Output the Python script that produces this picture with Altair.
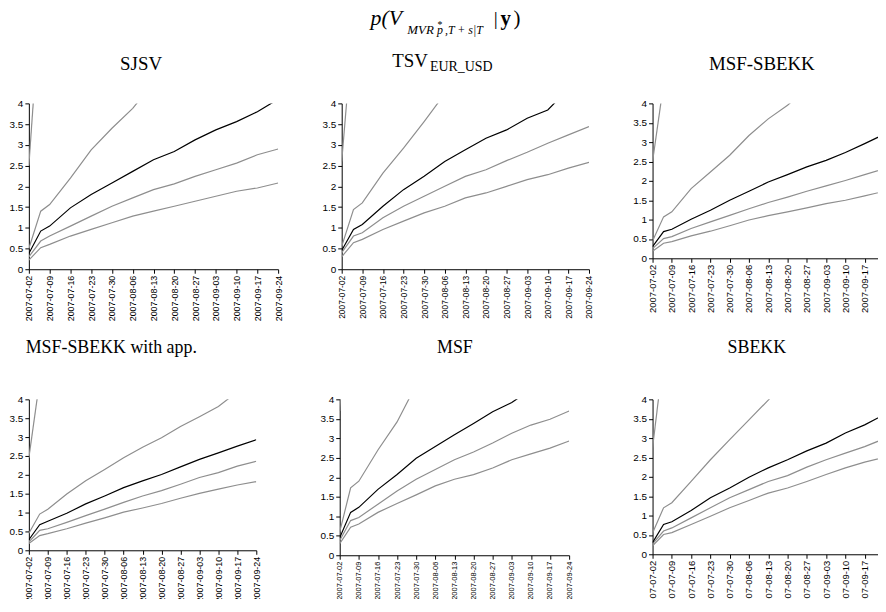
import altair as alt
import pandas as pd

# ---------------- data ----------------
dates = ["2007-07-02", "2007-07-06", "2007-07-09", "2007-07-16", "2007-07-23", "2007-07-30",
         "2007-08-06", "2007-08-13", "2007-08-20", "2007-08-27", "2007-09-03", "2007-09-10",
         "2007-09-17", "2007-09-24"]
tick_days = [(7, 2), (7, 9), (7, 16), (7, 23), (7, 30), (8, 6), (8, 13), (8, 20), (8, 27),
             (9, 3), (9, 10), (9, 17), (9, 24)]
y_ticks = [0, 0.5, 1, 1.5, 2, 2.5, 3, 3.5, 4]

# quantile paths per model (values beyond the 0-4 window are clipped)
sjsv_top = [2.5, 6.6]
sjsv_high = [0.5, 1.4, 1.56, 2.2, 2.88, 3.4, 3.88, 4.5]
sjsv_med = [0.38, 0.92, 1.04, 1.48, 1.8, 2.08, 2.36, 2.64, 2.84, 3.12, 3.36, 3.56, 3.8, 4.1]
sjsv_mid = [0.3, 0.68, 0.8, 1.04, 1.28, 1.52, 1.72, 1.92, 2.06, 2.24, 2.4, 2.56, 2.76, 2.9]
sjsv_low = [0.22, 0.52, 0.6, 0.8, 0.96, 1.12, 1.28, 1.4, 1.52, 1.64, 1.76, 1.88, 1.96, 2.08]

tsv_top = [2.6, 6.0]
tsv_high = [0.55, 1.44, 1.6, 2.32, 2.92, 3.56, 4.23]
tsv_med = [0.45, 0.96, 1.08, 1.52, 1.92, 2.24, 2.6, 2.88, 3.16, 3.36, 3.64, 3.84, 4.35]
tsv_mid = [0.4, 0.8, 0.88, 1.24, 1.52, 1.76, 2.0, 2.24, 2.4, 2.62, 2.82, 3.04, 3.24, 3.44]
tsv_low = [0.3, 0.64, 0.72, 0.96, 1.16, 1.36, 1.52, 1.72, 1.84, 2.0, 2.16, 2.28, 2.44, 2.58]

msfs_top = [2.5, 4.5]
msfs_high = [0.45, 1.07, 1.2, 1.8, 2.23, 2.66, 3.17, 3.6, 3.95, 4.4]
msfs_med = [0.3, 0.69, 0.75, 1.01, 1.24, 1.5, 1.73, 1.97, 2.16, 2.36, 2.53, 2.73, 2.96, 3.2]
msfs_mid = [0.25, 0.51, 0.56, 0.77, 0.94, 1.11, 1.28, 1.44, 1.58, 1.73, 1.87, 2.01, 2.16, 2.31]
msfs_low = [0.18, 0.39, 0.43, 0.58, 0.7, 0.84, 0.99, 1.1, 1.2, 1.3, 1.41, 1.5, 1.61, 1.73]

app_top = [2.45, 4.5]
app_high = [0.45, 0.96, 1.09, 1.49, 1.84, 2.14, 2.45, 2.73, 2.98, 3.28, 3.54, 3.81, 4.2]
app_med = [0.28, 0.68, 0.77, 0.98, 1.23, 1.44, 1.66, 1.84, 2.01, 2.21, 2.41, 2.58, 2.76, 2.93]
app_mid = [0.22, 0.53, 0.57, 0.74, 0.92, 1.09, 1.27, 1.44, 1.58, 1.75, 1.93, 2.06, 2.23, 2.36]
app_low = [0.18, 0.39, 0.44, 0.57, 0.72, 0.86, 1.01, 1.12, 1.24, 1.38, 1.51, 1.62, 1.73, 1.82]

msf_top = [3.7, 9.0]
msf_high = [0.6, 1.73, 1.9, 2.7, 3.42, 4.37]
msf_med = [0.45, 1.1, 1.23, 1.69, 2.07, 2.49, 2.79, 3.09, 3.38, 3.68, 3.92, 4.25]
msf_mid = [0.38, 0.89, 0.97, 1.31, 1.65, 1.95, 2.2, 2.45, 2.65, 2.88, 3.13, 3.34, 3.49, 3.7]
msf_low = [0.3, 0.72, 0.8, 1.1, 1.33, 1.55, 1.78, 1.95, 2.07, 2.24, 2.45, 2.6, 2.75, 2.93]

sbekk_top = [2.75, 5.1]
sbekk_high = [0.55, 1.2, 1.33, 1.88, 2.44, 2.96, 3.47, 3.98, 4.5]
sbekk_med = [0.3, 0.77, 0.84, 1.13, 1.46, 1.71, 1.99, 2.23, 2.44, 2.67, 2.87, 3.13, 3.34, 3.6]
sbekk_mid = [0.27, 0.6, 0.68, 0.94, 1.2, 1.46, 1.67, 1.88, 2.03, 2.25, 2.44, 2.61, 2.78, 2.98]
sbekk_low = [0.22, 0.51, 0.56, 0.77, 0.98, 1.2, 1.39, 1.58, 1.71, 1.88, 2.06, 2.23, 2.38, 2.5]

panels = {
    "SJSV": [sjsv_top, sjsv_high, sjsv_med, sjsv_mid, sjsv_low],
    "TSV": [tsv_top, tsv_high, tsv_med, tsv_mid, tsv_low],
    "MSF-SBEKK": [msfs_top, msfs_high, msfs_med, msfs_mid, msfs_low],
    "MSF-SBEKK with app.": [app_top, app_high, app_med, app_mid, app_low],
    "MSF": [msf_top, msf_high, msf_med, msf_mid, msf_low],
    "SBEKK": [sbekk_top, sbekk_high, sbekk_med, sbekk_mid, sbekk_low],
}
series_names = ["top", "high", "median", "mid", "low"]

rows = []
for pname, lists in panels.items():
    for sname, vals in zip(series_names, lists):
        for d, v in zip(dates, vals):
            rows.append({"panel": pname, "series": sname, "date": d, "value": v})
df = pd.DataFrame(rows)

# ---------------- styling ----------------
SERIF = "Liberation Serif"
SANS = "Liberation Sans"
GRAY = "#8e8e8e"


def dt(m, d):
    return alt.DateTime(year=2007, month=m, date=d, utc=True)


def x_enc(label_size):
    axis = alt.Axis(values=[dt(m, d) for m, d in tick_days], format="%Y-%m-%d",
                    labelAngle=270, labelAlign="right", labelBaseline="middle",
                    labelFontSize=label_size, labelFont=SANS, labelColor="black",
                    tickSize=4, labelPadding=2, title=None, grid=False,
                    labelOverlap=False, labelFlush=False,
                    domainColor="black", tickColor="black")
    return alt.X("date:T", scale=alt.Scale(type="utc", domain=[dt(7, 2), dt(9, 24)]),
                 axis=axis)


y_axis = alt.Axis(values=y_ticks, labelExpr="'' + datum.value",
                  labelFontSize=10, labelFont=SANS, labelColor="black",
                  tickSize=4, labelPadding=2, title=None, grid=False,
                  labelOverlap=False, labelFlush=False,
                  domainColor="black", tickColor="black")
y_enc = alt.Y("value:Q", scale=alt.Scale(domain=[0, 4]), axis=y_axis)


def label(text, x, y, size, align="left", style="normal", weight="normal"):
    return alt.Chart(pd.DataFrame({"t": [text]})).mark_text(
        font=SERIF, fontSize=size, align=align, baseline="alphabetic",
        fontStyle=style, fontWeight=weight, color="black"
    ).encode(text="t:N", x=alt.value(x), y=alt.value(y))


def panel(pname, w, h, label_size, labels):
    base = alt.Chart(df[df.panel == pname])
    xe = x_enc(label_size)
    gray = base.transform_filter("datum.series != 'median'").mark_line(
        clip=True, color=GRAY, strokeWidth=1.2).encode(x=xe, y=y_enc, detail="series:N")
    black = base.transform_filter("datum.series == 'median'").mark_line(
        clip=True, color="black", strokeWidth=1.2).encode(x=xe, y=y_enc)
    return alt.layer(gray, black, *labels).properties(width=w, height=h)


p1 = panel("SJSV", 251, 167, 9, [label("SJSV", 113, -34, 19, align="center")])
p2 = panel("TSV", 249, 167, 8.5, [
    label("TSV", 51, -37, 19),
    label("EUR_USD", 89, -33, 14),
    label("p(V", 29, -79, 22, style="italic"),
    label("MVR", 66, -70, 13, style="italic"),
    label("*", 96, -76, 10, style="italic"),
    label("p", 96, -70, 12, style="italic"),
    label(",T + s|T", 104, -70, 12, style="italic"),
    label("|", 153, -79, 20),
    label("y", 160, -79, 21, weight="bold"),
    label(")", 173, -79, 21),
])
p3 = panel("MSF-SBEKK", 233, 156, 9.5, [label("MSF-SBEKK", 110, -34, 19, align="center")])
p4 = panel("MSF-SBEKK with app.", 229, 152, 9,
           [label("MSF-SBEKK with app.", 83, -47, 18, align="center")])
p5 = panel("MSF", 231, 157, 7.5, [label("MSF", 116, -47, 18, align="center")])
p6 = panel("SBEKK", 233, 156, 9.5, [label("SBEKK", 105, -47, 18, align="center")])

row1 = alt.hconcat(p1, p2, p3, spacing=64, bounds="flush")
row2 = alt.hconcat(p4, p5, p6, spacing=84, bounds="flush")

chart = alt.vconcat(row1, row2, spacing=298, bounds="flush").properties(
    padding={"left": 1, "top": -3, "right": -11, "bottom": -12}
).configure_view(stroke=None)

chart.save("out.html", embed_options={"renderer": "svg", "actions": False})
